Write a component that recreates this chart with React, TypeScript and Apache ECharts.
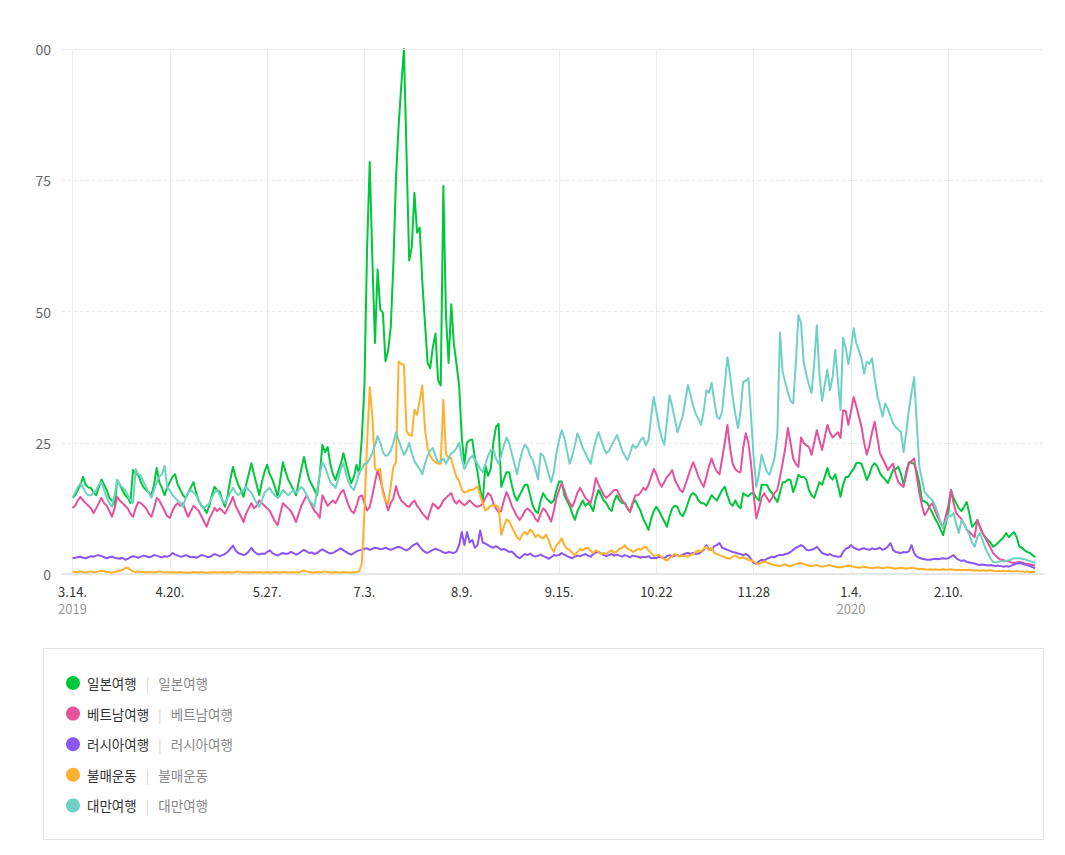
import React, { useEffect, useRef } from "react";
import * as echarts from "echarts";

// ---------- data ----------
const SERIES_NAMES = ["일본여행", "베트남여행", "러시아여행", "불매운동", "대만여행"];
const SERIES_COLORS = ["#00c73c", "#e6529a", "#8c56f5", "#ffb02e", "#6fd1c3"];

// first day with data (2019-03-14); axis starts 4 days earlier and ends 3 days after the last value
const AXIS_START = { y: 2019, m: 2, d: 10 };
const LEAD_DAYS = 4;
const AXIS_DAYS = 374;

const TICK_DATES = [
  "2019-03-14", "2019-04-20", "2019-05-27", "2019-07-03", "2019-08-09",
  "2019-09-15", "2019-10-22", "2019-11-28", "2020-01-04", "2020-02-10",
];
const TICK_LABELS = ["3.14.", "4.20.", "5.27.", "7.3.", "8.9.", "9.15.", "10.22", "11.28", "1.4.", "2.10."];
const YEAR_DATES = ["2019-03-14", "2020-01-04"];
const YEAR_LABELS = ["2019", "2020"];

const JAPAN = [
  14.5, 15, 16, 17, 18.5, 17, 16.5, 16.4, 15.5, 15, 16.5, 18, 17, 16, 14.5, 14, 13.1, 17.9, 17, 16, 15, 14.5, 13.5, 19.8, 19, 18.9, 17.5, 16.5, 16, 15.5, 15, 17, 20.2, 17.5, 16.4, 15, 16.5,
  17.5, 18.5, 19, 17, 16, 15, 14.5, 15.5, 16.5, 17.5, 15.5, 14, 13, 12.5, 11.6, 13, 15, 16.6, 16, 15.6, 14, 12.8, 15, 18, 20.4, 18.5, 17, 16, 14.7, 17, 19, 21.1, 19, 17, 15, 17.5, 19.5,
  20.8, 19, 18, 16.5, 14.7, 18, 21.3, 19.5, 18, 17, 16, 15, 17.5, 20, 22.3, 20, 18, 17, 16, 15, 19, 24.6, 23.2, 24.2, 21, 19, 17.9, 19.5, 21, 23, 21, 19, 17.3, 18.5, 20.8, 19, 26,
  36, 62, 78.5, 60, 44, 58, 50.4, 49.8, 40.5, 42.5, 47, 59, 75.5, 85.5, 93, 100, 80, 59.7, 62.3, 72.6, 65, 66, 55.7, 47.8, 40.2, 39.2, 43.2, 45.8, 36.9, 35.9, 73.9, 49.1, 40.2, 51.4, 43.8, 40, 35.9,
  26, 21, 25, 25.5, 25.6, 22, 19.4, 16, 14, 20.7, 18.7, 20, 25, 28, 28.6, 16.6, 18, 19.4, 19.4, 17, 15, 14, 15, 16, 17, 17, 15, 13, 12, 11.6, 14, 15.4, 14.5, 14, 13.5, 14, 16,
  17.6, 17.6, 15, 14, 13, 11.5, 10.3, 12, 13, 14, 13, 13.5, 13, 12, 14.5, 16, 15, 14, 13.5, 12.5, 12, 14, 15, 14, 13.5, 13.5, 12.5, 11.9, 13.5, 14, 13, 12, 10.5, 9.5, 8.4, 10.5, 12,
  12.8, 12, 11, 10, 9, 11, 12.5, 13, 12.8, 11.5, 11, 12, 13.5, 15, 15.4, 15, 14, 13.5, 13.5, 13, 14, 15, 14.5, 14, 15, 16, 16.6, 15, 13.5, 13, 14, 13, 12.5, 15.4, 15, 14.8, 15.4,
  15.4, 14.5, 14, 17, 17, 17, 16, 15.4, 14.5, 13.7, 15.5, 17.5, 17.5, 18, 17.9, 15.6, 17, 18.9, 18.5, 18.5, 18, 16, 15, 14.5, 16, 17.5, 17, 18.5, 20.2, 18.5, 18, 19, 17, 14.7, 17, 18.5, 18.5,
  19.4, 20, 21.1, 21.2, 21, 19.5, 17.9, 19, 20.5, 21.1, 20.5, 19.2, 18.5, 18, 17.3, 18.5, 19.8, 20, 20.4, 19, 17, 19.5, 21.3, 21.2, 21, 19.5, 17.3, 14, 13.8, 13.5, 12.5, 11.6, 10.5, 9.7, 8.5, 7.4, 9.5,
  11.6, 16, 14.5, 13.5, 12.5, 12, 12.8, 13.7, 11.5, 9, 9.5, 10.3, 9, 7.8, 7, 6.5, 6, 5.2, 5.5, 6, 6.5, 7, 7.8, 7, 7.5, 8, 7, 5.2, 5, 4.5, 4.2, 4, 3.6, 3.2,
];

const VIETNAM = [
  12.6, 13, 14, 14.7, 14, 13.5, 13, 12.5, 11.6, 12.5, 13.5, 14.5, 13.5, 13, 12, 10.9, 12.5, 14.7, 14, 13.5, 13, 12.5, 11.5, 10.9, 12.5, 13.7, 13.5, 13, 12.5, 11.5, 10.9, 12.5, 14.5, 14, 13, 12, 11,
  10.7, 12, 13, 13.5, 13, 13.5, 12, 10.9, 12, 13, 12.5, 12, 11, 10, 9, 10.5, 11.5, 12.6, 12, 12.5, 12, 11.5, 12.5, 13.5, 14.7, 13, 12, 11, 9.9, 11.5, 12.5, 13.5, 12.5, 13, 14, 13.5, 13,
  12.5, 12, 11, 10, 9.3, 11.5, 13.5, 13, 12.5, 12, 11, 9.9, 11.5, 13, 14, 15, 14, 13, 12, 11.5, 10.7, 15, 14, 13, 13.5, 14, 13.5, 14.5, 15.5, 16, 14.5, 13, 12, 11.6, 13, 14.7, 15,
  13.5, 12.1, 12.8, 15, 17.5, 19.8, 18, 16, 14, 12.1, 13.5, 14.4, 16.7, 15, 14, 13.5, 13, 12.8, 13.5, 14, 13, 12.4, 11.5, 11, 10.4, 12, 13.4, 13, 12.4, 13, 14, 14.5, 15, 15.4, 14, 13.4, 14,
  13.5, 13.1, 13.5, 14, 13.5, 13, 12.8, 13, 13.4, 14.5, 15.4, 15, 13.5, 12.5, 11.8, 12, 14, 15.6, 14.5, 13, 12, 11, 10.3, 11, 12, 12.5, 12, 11.5, 10.5, 10, 11.5, 12.5, 12, 11, 10, 12, 14.5,
  16, 17.3, 16, 14.5, 13.5, 12.8, 14, 15.5, 16.4, 15.5, 14.5, 14, 13.5, 15.5, 18.3, 17, 16, 15, 14.5, 15, 15.5, 16, 16, 15, 14, 13.5, 12.5, 11.8, 13.5, 15, 15, 15.5, 16.4, 16, 17, 18.5, 20,
  19, 17.5, 16.6, 17.5, 18.5, 19, 19.8, 18, 17, 16, 15.6, 17, 18.5, 20, 21.3, 20, 18.5, 17.5, 16.6, 18.5, 20.5, 22, 20.5, 19.5, 19, 22, 25, 28.4, 24, 21, 20, 19.5, 19.4, 24, 26.8, 25, 21,
  15, 10.6, 12.5, 14.5, 15.4, 14.5, 13.7, 14.5, 15.5, 16, 18.5, 21.1, 24, 27.8, 25, 22, 21, 20.4, 26, 25, 24.5, 24.2, 22.7, 25, 27.4, 25.5, 23.6, 26, 28.4, 27, 26, 26.5, 27, 25.9, 31.2, 31, 28.4,
  31, 33.7, 32, 30, 28, 25, 22.7, 24.5, 27, 29, 26, 23, 22, 21, 19.8, 20.5, 21, 19, 17.5, 17, 16.6, 19, 21.1, 21.5, 22, 18.5, 15.4, 13, 11.2, 12, 13, 13.5, 12, 10.9, 9.8, 8.8, 11,
  13, 16, 13.5, 11.6, 11, 10.5, 9.5, 8.4, 8, 7.5, 7, 10.3, 9, 7.8, 7, 6, 5, 4, 3.5, 3, 2.7, 2.6, 2.5, 2.4, 2.2, 2.1, 2.2, 2.3, 2.2, 2, 1.9, 1.8, 1.7, 1.6,
];

const RUSSIA = [
  3, 3.1, 3.2, 3.3, 3.1, 3, 3.2, 3.4, 3.3, 3.5, 3.6, 3.4, 3.2, 3, 3.2, 3.3, 3.1, 3, 2.9, 3.1, 2.7, 2.9, 3.2, 3.4, 3.3, 3.1, 3.3, 3.5, 3.4, 3.2, 3.3, 3.6, 3.5, 3.3, 3.2, 3.4, 3.3,
  3.5, 4, 3.7, 3.5, 3.3, 3.4, 3.6, 3.4, 3.2, 3.3, 3.1, 3.3, 3.6, 3.5, 3.3, 3.2, 3.5, 3.8, 3.6, 3.4, 3.6, 3.8, 4.2, 4.8, 5.4, 4.5, 4, 3.8, 3.6, 3.8, 4.3, 5, 4.3, 3.9, 3.7, 3.9, 3.8,
  4.2, 4.5, 4, 3.7, 3.5, 3.8, 4, 3.8, 3.9, 4.2, 4, 3.7, 3.9, 4.3, 4.6, 4.3, 4, 4.1, 3.8, 4, 4.4, 4.7, 4.4, 4.1, 3.9, 4, 4.3, 4.6, 4.9, 4.5, 4.2, 3.9, 3.7, 4, 4.3, 4.5, 4.6,
  4.8, 4.9, 4.6, 4.8, 5, 4.9, 4.7, 4.8, 5, 4.8, 4.6, 4.8, 5, 5.2, 5, 4.7, 4.5, 4.8, 5.3, 5.6, 5.9, 5.2, 4.6, 4.2, 4, 4.3, 4.6, 4.8, 4.6, 4.4, 4.1, 4, 4.2, 4.1, 4, 4.3, 5.5,
  8, 5.5, 8, 6, 6.5, 5, 5.5, 8.3, 6, 5.8, 5.5, 5.2, 5, 5.3, 5, 4.6, 4.8, 4.5, 4.2, 4.3, 3.8, 3.3, 3, 3.4, 3.8, 3.6, 3.9, 3.5, 3.3, 3.5, 3.7, 3.4, 3.2, 2.9, 3.2, 3.6, 3.5,
  3.6, 4, 3.7, 3.4, 3.2, 3, 3.3, 3.5, 3.4, 3.6, 3.8, 3.5, 3.3, 3.8, 4.1, 4.2, 3.9, 3.6, 3.4, 3.6, 3.8, 3.5, 3.7, 3.5, 3.3, 3.6, 3.4, 3.2, 3.5, 3.4, 3.3, 3.1, 3.3, 3.2, 3.4, 3, 3.1,
  3, 3.3, 3.2, 3, 3.4, 3.6, 3.3, 3.5, 3.6, 3.4, 3.7, 3.9, 4, 3.8, 4, 3.8, 3.9, 4.2, 4.6, 5.5, 4.8, 4.6, 5.3, 5.5, 5.9, 5, 4.8, 4.6, 4.4, 4.2, 4.1, 3.9, 3.8, 3.6, 3.8, 3.5, 2.8,
  2.1, 2, 2.4, 2.7, 2.6, 2.9, 3.1, 3.3, 3.2, 3.5, 3.6, 3.6, 3.8, 3.9, 4.2, 4.6, 5, 5.2, 5.5, 5.2, 4.6, 4.5, 4.6, 4.8, 5.2, 4.6, 4, 3.8, 3.6, 3.8, 3.5, 3.4, 3.3, 3.3, 4.2, 4.8, 5,
  5.5, 5, 4.8, 4.6, 4.8, 4.9, 4.7, 4.6, 4.9, 4.7, 4.8, 5, 4.6, 4.8, 5.2, 5.9, 4.6, 4.2, 4.1, 4, 4.2, 4.1, 4.3, 5.5, 4, 3.3, 3.1, 2.9, 2.8, 2.7, 2.7, 2.8, 2.9, 2.8, 2.9, 3, 2.9,
  3, 3.3, 3.6, 3, 2.7, 2.5, 2.6, 2.3, 2.2, 2.1, 2, 1.8, 1.7, 1.8, 1.7, 1.6, 1.7, 1.6, 1.5, 1.6, 1.5, 1.4, 1.5, 1.4, 1.6, 1.8, 2, 2.1, 2, 1.8, 1.7, 1.5, 1.3, 1.1,
];

const BOYCOTT = [
  0.5, 0.4, 0.4, 0.5, 0.4, 0.3, 0.4, 0.5, 0.4, 0.4, 0.5, 0.6, 0.5, 0.4, 0.4, 0.3, 0.4, 0.5, 0.6, 0.8, 1.1, 1.2, 0.8, 0.5, 0.4, 0.5, 0.4, 0.4, 0.3, 0.4, 0.4, 0.3, 0.4, 0.5, 0.4, 0.3, 0.4,
  0.3, 0.4, 0.3, 0.3, 0.4, 0.3, 0.3, 0.2, 0.3, 0.4, 0.3, 0.3, 0.4, 0.3, 0.2, 0.3, 0.3, 0.4, 0.3, 0.3, 0.4, 0.3, 0.4, 0.3, 0.3, 0.4, 0.5, 0.4, 0.3, 0.4, 0.3, 0.3, 0.4, 0.3, 0.4, 0.3, 0.3,
  0.4, 0.3, 0.3, 0.4, 0.3, 0.3, 0.4, 0.4, 0.3, 0.3, 0.4, 0.3, 0.3, 0.5, 0.7, 0.5, 0.4, 0.3, 0.3, 0.4, 0.3, 0.4, 0.5, 0.4, 0.3, 0.3, 0.4, 0.3, 0.3, 0.4, 0.3, 0.3, 0.3, 0.3, 0.4, 0.5, 2,
  12, 25, 35.6, 30, 20, 19.7, 20, 15.4, 14, 13.4, 16.7, 20.4, 21.3, 40.5, 40, 39.9, 27.3, 26.5, 26.3, 31.3, 30.3, 33, 35.9, 27.6, 24, 22.5, 21.7, 21.3, 21, 21, 33.2, 22.7, 22.2, 22, 20, 18.5, 17.7,
  16, 15.5, 15.7, 16, 16, 16.3, 16.7, 15, 13.4, 12.1, 12.5, 13, 13.1, 13, 12.8, 7.5, 9, 10.4, 10, 9, 8, 7, 6.5, 7.5, 8, 7.5, 8.5, 8, 7, 7.5, 7, 6.8, 7.5, 6.5, 5, 4.2, 5.5,
  6, 6.8, 5.5, 4.8, 4.6, 4, 3.6, 4.2, 4.8, 4.5, 4.9, 5, 4.4, 4, 4.5, 4.2, 3.8, 4, 3.8, 4.2, 4.5, 4, 4.3, 4.8, 5, 5.5, 4.8, 4.6, 4.2, 4.4, 4.8, 4.6, 5, 5.2, 4.5, 4, 3.5,
  3.5, 3.6, 3.2, 2.8, 2.6, 3, 3.4, 3.8, 3.6, 3.3, 3.5, 3.4, 3.3, 3.6, 3.8, 4.2, 4.5, 4.3, 4.8, 5.2, 4.5, 5, 4, 3.8, 3.6, 3.4, 3.2, 3, 2.9, 3.3, 3.5, 3.2, 3, 3.2, 2.9, 2.7, 2.6,
  2.4, 2, 1.9, 2.2, 2.4, 2.2, 2, 1.8, 1.7, 1.6, 1.5, 1.7, 1.8, 1.6, 1.5, 1.7, 1.9, 2, 2.1, 1.9, 1.7, 1.6, 1.5, 1.6, 1.7, 1.5, 1.4, 1.5, 1.6, 1.7, 1.5, 1.4, 1.3, 1.3, 1.4, 1.5, 1.6,
  1.5, 1.4, 1.3, 1.2, 1.3, 1.4, 1.3, 1.2, 1.1, 1.2, 1.3, 1.2, 1.1, 1.2, 1.3, 1.2, 1.1, 1, 1.1, 1.2, 1.1, 1, 1.1, 1.2, 1.1, 1, 0.9, 1, 0.9, 0.8, 0.9, 0.8, 0.9, 0.8, 0.8, 0.9, 0.8,
  0.8, 0.9, 0.8, 0.7, 0.8, 0.7, 0.8, 0.7, 0.8, 0.7, 0.6, 0.7, 0.6, 0.7, 0.6, 0.6, 0.7, 0.6, 0.5, 0.6, 0.5, 0.6, 0.5, 0.6, 0.5, 0.5, 0.6, 0.5, 0.5, 0.4, 0.5, 0.4, 0.4, 0.4,
];

const TAIWAN = [
  14.5, 15.5, 16.5, 17.3, 16.5, 15.5, 15, 15, 15.5, 16, 17, 17.5, 16, 14.5, 13.5, 12.8, 15, 17.9, 17, 16.5, 16, 15, 14, 13.5, 20, 19, 18.7, 17.5, 16.5, 15.5, 14.5, 16, 17.5, 18.5, 19, 20.6, 16.4,
  16, 15, 14.5, 14, 13.5, 12.8, 14.5, 15.5, 16, 15.5, 15, 14, 13, 12.6, 13, 13.5, 14.5, 15.5, 16, 15, 14, 13.5, 14.5, 15.5, 16.4, 15.5, 15, 15.5, 16, 16.6, 16, 15.5, 14.5, 13.5, 12.8, 14, 15.5,
  16, 16.4, 15.5, 15, 14.5, 15, 16, 15.5, 15, 15.5, 16, 15.5, 16, 16.6, 16, 15, 14, 13.5, 12.8, 16, 19, 21.3, 20.4, 19, 17.5, 17, 16.4, 18, 20, 21.1, 19, 17.5, 16.5, 16, 17.5, 19.4, 20,
  21, 21.1, 22, 23, 24.5, 26.3, 25, 23.3, 22.5, 22.7, 23.5, 25, 27, 25.5, 24, 22.7, 23.5, 25, 23, 21.5, 20.7, 20, 19, 21, 22.5, 23.5, 24, 22.5, 21.3, 21.5, 22, 21, 22, 23, 23.3, 24, 25,
  22, 20, 21, 22, 22.5, 21.7, 21, 20, 19.4, 21, 22.5, 23.6, 23.7, 22, 21, 22.5, 24.5, 26, 25, 23, 21, 19, 21.5, 23.5, 24.6, 24, 22.5, 21.7, 20, 18, 23, 22.5, 21, 19, 17.5, 19.5, 23,
  25.5, 27.4, 26, 23.5, 21, 22.5, 24.5, 26.8, 25.5, 24, 23, 22, 21, 23.5, 25.5, 27, 25.5, 24, 23, 23.5, 24.5, 25.5, 26.5, 25, 23.5, 22.5, 21.7, 23, 24.6, 24, 24.5, 25.5, 26, 24.5, 25.5, 30, 33.7,
  31, 28, 26, 24.6, 29, 34, 32, 29.5, 27, 28.5, 30, 33, 36, 34, 32, 30.5, 29.5, 28.4, 31, 35, 34.5, 36.4, 33, 30, 29.5, 31, 36, 41.3, 38, 33.7, 30.5, 27.8, 31, 36.6, 36.8, 37.3, 30,
  22, 16.6, 19, 22.7, 21, 19.5, 18.9, 20.5, 22.3, 26.8, 46, 38.5, 36.5, 34.5, 33, 32.5, 40, 49.3, 47.8, 40.4, 38, 36, 34.5, 40, 47.4, 38, 33, 36, 38.9, 35, 37.5, 42.7, 37, 31.2, 45, 43, 40,
  43, 46.8, 44, 42.5, 41, 38.2, 40.4, 40, 41.1, 37.3, 34, 32, 30, 32.5, 31.5, 30, 28.7, 28, 27.5, 27, 23.2, 27, 31.2, 34.5, 37.5, 28.7, 20.4, 18, 15.6, 15, 14.5, 14, 13, 11.6, 10, 8.8, 10,
  11.2, 11, 11.6, 9.5, 7.8, 10.3, 9.5, 8.4, 7.5, 6, 5.2, 7, 7.8, 6.5, 5, 4, 3, 2.3, 2.2, 2.3, 2.5, 2.4, 2.5, 2.6, 2.8, 3, 3, 3, 2.9, 2.8, 2.6, 2.5, 2.3, 2.2,
];

const SERIES_VALUES = [JAPAN, VIETNAM, RUSSIA, BOYCOTT, TAIWAN];

// ---------- helpers ----------
function isoDay(offset: number): string {
  const t = new Date(Date.UTC(AXIS_START.y, AXIS_START.m, AXIS_START.d + offset));
  return t.toISOString().slice(0, 10);
}
const CATEGORIES = Array.from({ length: AXIS_DAYS }, (_, i) => isoDay(i));
const LEAD: (number | null)[] = Array.from({ length: LEAD_DAYS }, () => null);

const FONT = "'Noto Sans CJK KR', 'Noto Sans', sans-serif";

function isTick(_i: number, value: string) {
  return TICK_DATES.indexOf(value) >= 0;
}

export default function App() {
  const ref = useRef<HTMLDivElement>(null);

  useEffect(() => {
    if (!ref.current) return;
    const chart = echarts.init(ref.current, undefined, { renderer: "svg" });

    const series: any[] = SERIES_NAMES.map((name, i) => ({
      name,
      type: "line",
      data: LEAD.concat(SERIES_VALUES[i]),
      showSymbol: false,
      symbol: "none",
      color: SERIES_COLORS[i],
      lineStyle: { width: 2, color: SERIES_COLORS[i], join: "round" },
      emphasis: { disabled: true },
      z: 3,
    }));
    series[0].markLine = {
      silent: true,
      symbol: ["none", "none"],
      label: { show: false },
      lineStyle: { color: "#ebebeb", type: "solid", width: 1 },
      data: [{ yAxis: 100 }],
    };

    chart.setOption({
      animation: false,
      textStyle: { fontFamily: FONT },
      grid: { left: 62, right: 22, top: 49, bottom: 281, containLabel: false },
      xAxis: {
        type: "category",
        data: CATEGORIES,
        boundaryGap: false,
        axisTick: { show: false },
        axisLine: { show: true, lineStyle: { color: "#e6e6e6", width: 2 } },
        splitLine: { show: true, interval: isTick, lineStyle: { color: "#eeeeee", width: 1 } },
        axisLabel: {
          interval: isTick,
          margin: 9,
          color: "#333",
          fontSize: 13,
          lineHeight: 16,
          fontFamily: FONT,
          formatter: (value: string) => {
            const i = TICK_DATES.indexOf(value);
            if (i < 0) return "";
            const yi = YEAR_DATES.indexOf(value);
            return yi >= 0 ? `${TICK_LABELS[i]}\n{y|${YEAR_LABELS[yi]}}` : TICK_LABELS[i];
          },
          rich: { y: { color: "#999", fontSize: 13, lineHeight: 18, fontFamily: FONT } },
        },
      },
      yAxis: {
        type: "value",
        min: 0,
        max: 100,
        interval: 25,
        axisLine: { show: false },
        axisTick: { show: false },
        axisLabel: { color: "#666", fontSize: 14, margin: 11, fontFamily: FONT },
        splitLine: { show: true, lineStyle: { color: "#e8e8e8", type: [3, 3], width: 1 } },
      },
      legend: {
        orient: "vertical",
        left: 66,
        top: 676,
        padding: 0,
        itemGap: 16.6,
        itemWidth: 14,
        itemHeight: 14,
        icon: "circle",
        selectedMode: false,
        data: SERIES_NAMES,
        formatter: (name: string) => `{a|${name}}{s||}{b|${name}}`,
        textStyle: {
          fontFamily: FONT,
          fontSize: 13.5,
          lineHeight: 14,
          rich: {
            a: { color: "#333", fontSize: 13.5, lineHeight: 14, padding: [0, 0, 0, 2], fontFamily: FONT },
            s: { color: "#d3d3d3", fontSize: 13.5, lineHeight: 14, padding: [0, 9, 0, 9], fontFamily: FONT },
            b: { color: "#888", fontSize: 13.5, lineHeight: 14, fontFamily: FONT },
          },
        },
      },
      graphic: [
        {
          type: "rect",
          z: -10,
          silent: true,
          shape: { x: 43.5, y: 648.5, width: 1000, height: 191 },
          style: { fill: "#fff", stroke: "#e3e3e3", lineWidth: 1 },
        },
      ],
      series,
    });

    return () => chart.dispose();
  }, []);

  return (
    <div
      style={{
        position: "fixed",
        left: 35,
        top: 0,
        width: 1030,
        height: 855,
        overflow: "hidden",
        background: "#fff",
      }}
    >
      <div ref={ref} style={{ position: "absolute", left: -35, top: 0, width: 1065, height: 855 }} />
    </div>
  );
}
